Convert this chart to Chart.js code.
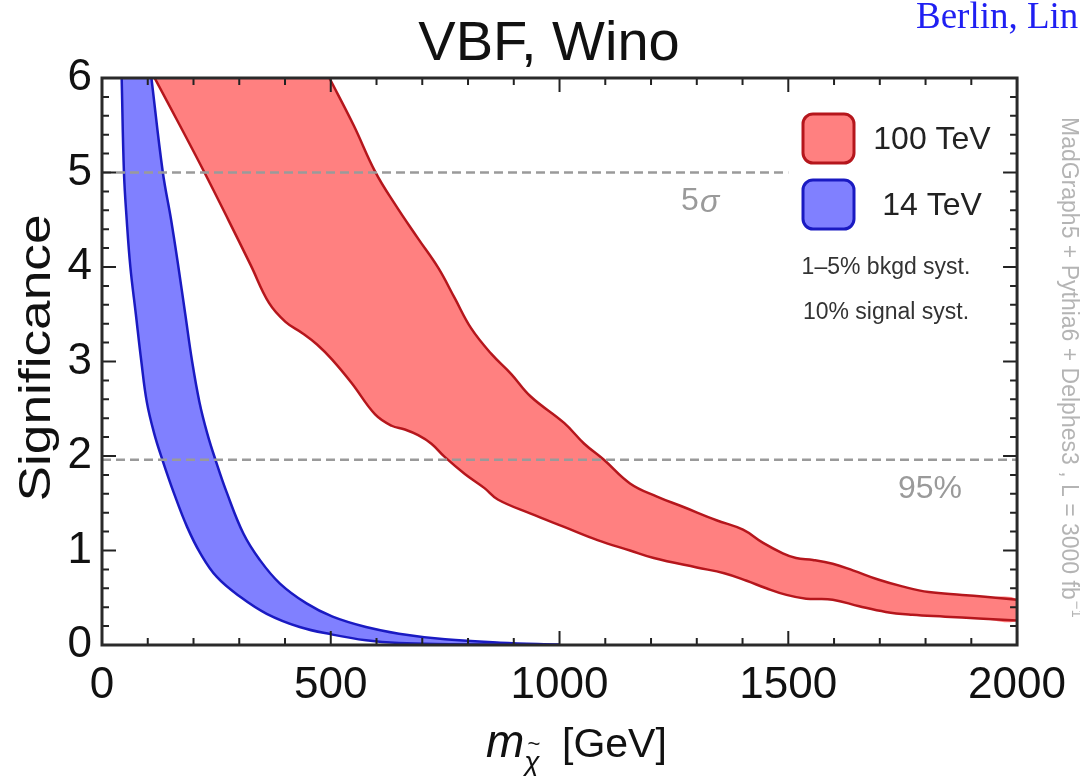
<!DOCTYPE html>
<html>
<head>
<meta charset="utf-8">
<script src="https://cdn.jsdelivr.net/npm/chart.js@4/dist/chart.umd.min.js"></script>
<style>
  html, body { margin: 0; padding: 0; background: #fff; }
</style>
</head>
<body>
<canvas id="canvas" width="1080" height="776"></canvas>
<script>
  const canvas = document.getElementById('canvas');

  // 14 TeV band: lower and upper significance edges vs. wino mass (GeV)
  const blueLowMass = [43, 48, 54, 62, 74, 86, 98, 114, 132, 157, 186, 215, 251, 302, 360, 432, 504, 577, 649, 760, 880, 1000];
  const blueLowSig = [6, 5, 4.5, 4, 3.5, 3, 2.57, 2.24, 1.96, 1.61, 1.25, 0.97, 0.72, 0.51, 0.33, 0.19, 0.11, 0.05, 0.02, 0.008, 0.002, 0];
  const blueHighMass = [108, 133, 151, 167, 182, 197, 213, 230, 248, 273, 309, 345, 389, 447, 504, 577, 649, 750, 870, 1000];
  const blueHighSig = [6, 5, 4.5, 4, 3.5, 3, 2.57, 2.24, 1.96, 1.61, 1.18, 0.90, 0.65, 0.44, 0.30, 0.19, 0.12, 0.06, 0.025, 0.005];

  // 100 TeV band
  const redLowMass = [115, 170, 224, 278, 325, 365, 401, 438, 470, 503, 546, 597, 633, 662, 691, 720, 749, 793, 836, 865, 937, 1010, 1083, 1154, 1206, 1300, 1360, 1409, 1452, 1496, 1539, 1597, 1655, 1713, 1771, 1843, 1916, 2000];
  const redLowSig = [6, 5.5, 5, 4.48, 4.02, 3.62, 3.42, 3.3, 3.18, 3.02, 2.77, 2.44, 2.32, 2.28, 2.22, 2.13, 1.99, 1.81, 1.66, 1.54, 1.39, 1.25, 1.11, 1.0, 0.92, 0.82, 0.76, 0.68, 0.60, 0.53, 0.49, 0.48, 0.41, 0.35, 0.32, 0.30, 0.28, 0.26];
  const redHighMass = [497, 550, 597, 641, 691, 735, 771, 807, 851, 894, 937, 1010, 1054, 1097, 1154, 1213, 1271, 1343, 1401, 1445, 1488, 1517, 1554, 1597, 1641, 1698, 1749, 1807, 1880, 1930, 2000];
  const redHighSig = [6, 5.5, 5.01, 4.66, 4.30, 3.99, 3.67, 3.35, 3.08, 2.87, 2.63, 2.35, 2.13, 1.96, 1.71, 1.57, 1.46, 1.32, 1.22, 1.08, 0.97, 0.92, 0.90, 0.86, 0.79, 0.69, 0.62, 0.56, 0.53, 0.51, 0.48];

  // reference lines
  const fiveSigma = 5;
  const fiveSigmaSpan = [0, 1500];
  const cl95 = 1.96;
  const cl95Span = [0, 2000];

  const energyLabels = ['100 TeV', '14 TeV'];
  const systNotes = ['1\u20135% bkgd syst.', '10% signal syst.'];

  const redFill = 'rgb(255,128,128)';
  const redEdge = '#b5161c';
  const blueFill = 'rgb(128,128,255)';
  const blueEdge = '#1a1ac2';
  const sans = "'Liberation Sans', Arial, sans-serif";

  function toPoints(xs, ys) {
    return xs.map((x, i) => ({ x: x, y: ys[i] }));
  }

  // closed outline: along the lower edge, back along the upper edge
  function band(lowX, lowY, highX, highY) {
    return toPoints(lowX, lowY).concat(toPoints(highX, highY).reverse());
  }

  function edge(xs, ys, color) {
    return { data: toPoints(xs, ys), borderColor: color, borderWidth: 2.5, fill: false, tension: 0.4 };
  }

  function refLine(span, level) {
    return {
      data: span.map(x => ({ x: x, y: level })),
      borderColor: '#9a9a9a', borderWidth: 2.5, borderDash: [9, 5], fill: false, tension: 0
    };
  }

  const decorations = {
    id: 'decorations',
    afterDraw(chart) {
      const { ctx, chartArea: a, scales: { x, y } } = chart;
      ctx.save();

      // inward ticks on all four sides
      ctx.strokeStyle = '#222';
      ctx.lineWidth = 2;
      ctx.beginPath();
      for (let v = 0; v <= 2000; v += 100) {
        const px = x.getPixelForValue(v);
        const len = v % 500 === 0 ? 14 : 7;
        ctx.moveTo(px, a.bottom); ctx.lineTo(px, a.bottom - len);
        ctx.moveTo(px, a.top); ctx.lineTo(px, a.top + len);
      }
      for (let k = 0; k <= 30; k++) {
        const py = y.getPixelForValue(k * 0.2);
        const len = k % 5 === 0 ? 14 : 7;
        ctx.moveTo(a.left, py); ctx.lineTo(a.left + len, py);
        ctx.moveTo(a.right, py); ctx.lineTo(a.right - len, py);
      }
      ctx.stroke();

      // frame
      ctx.lineWidth = 3;
      ctx.strokeStyle = '#2a2a2a';
      ctx.strokeRect(a.left, a.top, a.right - a.left, a.bottom - a.top);

      // legend swatches
      const swatches = [[redFill, redEdge, 114], [blueFill, blueEdge, 180]];
      swatches.forEach(([fill, stroke, top], i) => {
        ctx.beginPath();
        ctx.roundRect(803, top, 51, 49, 10);
        ctx.fillStyle = fill;
        ctx.fill();
        ctx.lineWidth = 3;
        ctx.strokeStyle = stroke;
        ctx.stroke();
        ctx.fillStyle = '#222';
        ctx.font = '32px ' + sans;
        ctx.textAlign = 'center';
        ctx.textBaseline = 'middle';
        ctx.fillText(energyLabels[i], 932, top + 26);
      });
      ctx.font = '23px ' + sans;
      ctx.fillStyle = '#333';
      ctx.fillText(systNotes[0], 886, 268);
      ctx.fillText(systNotes[1], 886, 313);

      // labels for the reference lines
      ctx.fillStyle = '#9a9a9a';
      ctx.font = '32px ' + sans;
      ctx.textAlign = 'left';
      ctx.fillText('5', 681, 201);
      ctx.font = 'italic 32px ' + sans;
      ctx.fillText('\u03c3', 700, 203);
      ctx.font = '32px ' + sans;
      ctx.textAlign = 'center';
      ctx.fillText('95%', 930, 489);

      // title and credit
      ctx.fillStyle = '#111';
      ctx.font = '56px ' + sans;
      ctx.textBaseline = 'alphabetic';
      ctx.fillText('VBF, Wino', 549, 60);
      ctx.fillStyle = '#1f1ff2';
      ctx.font = "37px 'Liberation Serif', 'Times New Roman', serif";
      ctx.textAlign = 'left';
      ctx.fillText('Berlin, Lin', 916, 28);

      // y title, stretched along its length
      ctx.save();
      ctx.translate(38, 358);
      ctx.rotate(-Math.PI / 2);
      ctx.font = '44px ' + sans;
      ctx.fillStyle = '#111';
      ctx.textAlign = 'center';
      ctx.textBaseline = 'middle';
      const sw = ctx.measureText('Significance').width;
      ctx.scale(287 / sw, 1);
      ctx.fillText('Significance', 0, 0);
      ctx.restore();

      // x title: m with chi-tilde subscript, then unit
      ctx.fillStyle = '#111';
      ctx.textAlign = 'left';
      ctx.textBaseline = 'alphabetic';
      ctx.font = 'italic 46px ' + sans;
      ctx.fillText('m', 486, 757);
      const mw = ctx.measureText('m').width;
      ctx.font = 'italic 28px ' + sans;
      ctx.fillText('\u03c7', 486 + mw, 771);
      const cw = ctx.measureText('\u03c7').width;
      ctx.font = '22px ' + sans;
      ctx.textAlign = 'center';
      ctx.fillText('~', 486 + mw + cw / 2 + 2, 751);
      ctx.textAlign = 'left';
      ctx.font = '41px ' + sans;
      ctx.fillText('[GeV]', 562, 757);

      // generator note on the right edge
      ctx.save();
      ctx.translate(1062, 117);
      ctx.rotate(Math.PI / 2);
      ctx.fillStyle = '#b4b4b4';
      ctx.font = '23px ' + sans;
      const note = 'MadGraph5 + Pythia6 + Delphes3 , L = 3000 fb';
      ctx.fillText(note, 0, 0);
      const nw = ctx.measureText(note).width;
      ctx.font = '15px ' + sans;
      ctx.fillText('\u22121', nw + 1, -10);
      ctx.restore();

      ctx.restore();
    }
  };

  const tickFont = { family: sans, size: 44 };

  new Chart(canvas, {
    type: 'line',
    data: {
      datasets: [
        refLine(fiveSigmaSpan, fiveSigma),
        refLine(cl95Span, cl95),
        edge(redHighMass, redHighSig, redEdge),
        edge(redLowMass, redLowSig, redEdge),
        edge(blueHighMass, blueHighSig, blueEdge),
        edge(blueLowMass, blueLowSig, blueEdge),
        { data: band(redLowMass, redLowSig, redHighMass, redHighSig), backgroundColor: redFill, borderWidth: 0, fill: 'shape', tension: 0.4 },
        { data: band(blueLowMass, blueLowSig, blueHighMass, blueHighSig), backgroundColor: blueFill, borderWidth: 0, fill: 'shape', tension: 0.4 }
      ]
    },
    options: {
      responsive: false,
      animation: false,
      layout: { padding: { top: 78, right: 58, left: 0, bottom: 0 } },
      elements: { point: { radius: 0 } },
      plugins: { legend: { display: false }, tooltip: { enabled: false } },
      scales: {
        x: {
          type: 'linear', min: 0, max: 2000,
          grid: { display: false, drawTicks: false },
          border: { display: false },
          ticks: { stepSize: 500, font: tickFont, color: '#111', padding: 14, maxRotation: 0, callback: v => String(v) },
          afterFit: s => { s.height = 131; }
        },
        y: {
          type: 'linear', min: 0, max: 6,
          grid: { display: false, drawTicks: false },
          border: { display: false },
          ticks: { stepSize: 1, font: tickFont, color: '#111', padding: 10, callback: v => String(v) },
          afterFit: s => { s.width = 102; }
        }
      }
    },
    plugins: [decorations]
  });
</script>
</body>
</html>
